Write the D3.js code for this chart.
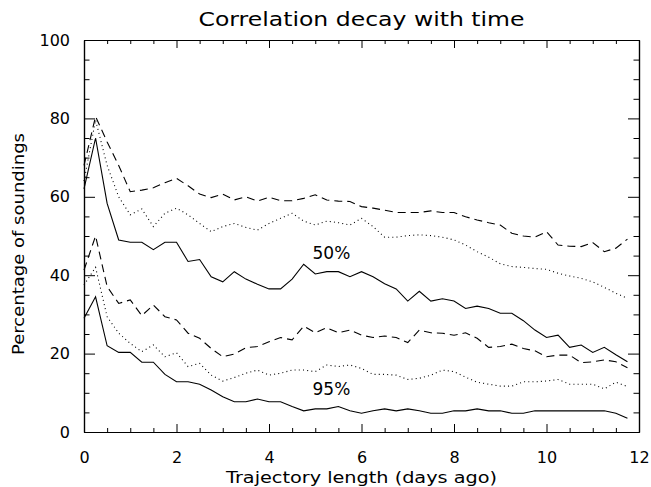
<!DOCTYPE html>
<html>
<head>
<meta charset="utf-8">
<script src="https://cdn.jsdelivr.net/npm/d3@7"></script>
<style>
  html, body { margin: 0; padding: 0; background: #fff; }
  svg text { font-family: "DejaVu Sans", sans-serif; fill: #000; }
</style>
</head>
<body>
<svg id="chart" width="651" height="487"></svg>
<script>
// ---- data ----
const days = d3.range(0, 12, 0.25); // 0 .. 11.75
const xTicks = [0, 2, 4, 6, 8, 10, 12];
const yTicks = [0, 20, 40, 60, 80, 100];

const dashed50 = [68, 80.5, 74, 68, 61.3, 61.7, 62.3, 63.6, 64.7, 62.8, 60.7, 59.8, 60.7, 59.2, 60.0, 58.9,
  59.9, 59.0, 59.0, 59.6, 60.5, 59.2, 58.9, 58.8, 57.5, 57.1, 56.6, 56.0, 56.0, 56.0, 56.4, 56.0,
  56.0, 54.9, 54.1, 53.4, 52.8, 50.7, 50.0, 49.7, 51.1, 47.7, 47.4, 47.3, 48.3, 46.0, 46.9, 49.2];
const dotted50 = [64, 79.6, 68, 60, 55.4, 56.9, 52.4, 55.8, 57.1, 55.4, 53.2, 51.1, 52.4, 53.2, 52.2, 51.5,
  53.2, 54.5, 55.8, 53.8, 52.8, 53.8, 53.4, 52.8, 54.5, 52.4, 49.7, 49.7, 50.1, 50.3, 50.1, 49.7,
  49.0, 47.7, 46.0, 44.6, 42.9, 42.2, 42.0, 41.7, 41.5, 40.5, 39.8, 39.2, 38.3, 36.9, 35.4, 34.1];
const solid50 = [62, 75, 58.3, 49.0, 48.4, 48.4, 46.5, 48.4, 48.4, 43.5, 44.0, 39.6, 38.3, 40.9, 39.0, 37.7,
  36.5, 36.5, 39.0, 42.8, 40.3, 40.9, 40.9, 39.6, 40.9, 39.6, 37.8, 36.5, 33.4, 35.9, 33.4, 34.0,
  33.4, 31.5, 32.1, 31.5, 30.3, 30.3, 28.4, 26.0, 24.1, 24.7, 21.6, 22.2, 20.3, 21.6, 19.7, 17.9];
const dashed95 = [41.3, 50.0, 37.1, 32.8, 33.7, 29.7, 32.4, 29.4, 28.6, 25.2, 23.9, 21.3, 19.2, 19.9, 21.5, 21.8,
  23.0, 24.1, 23.5, 27.0, 25.3, 26.6, 25.3, 26.0, 24.7, 24.1, 24.5, 24.1, 22.8, 26.0, 25.3, 25.2,
  24.7, 25.3, 23.9, 21.6, 21.8, 22.4, 21.3, 20.7, 19.2, 19.6, 19.6, 17.7, 17.9, 18.4, 17.9, 16.4];
const dotted95 = [37.5, 42.0, 29.4, 25.2, 22.6, 20.5, 22.2, 19.2, 20.2, 16.7, 17.5, 14.5, 13.0, 13.9, 15.0, 15.8,
  14.5, 15.0, 15.8, 15.8, 15.4, 17.1, 16.7, 17.1, 16.2, 14.7, 14.7, 14.5, 13.4, 13.7, 14.5, 15.8,
  15.4, 14.0, 12.7, 12.2, 11.7, 11.7, 12.8, 12.8, 13.0, 13.4, 12.2, 12.2, 12.2, 11.0, 12.7, 11.6];
const solid95 = [29.0, 34.5, 22.0, 20.3, 20.3, 17.8, 17.8, 14.7, 12.8, 12.8, 12.2, 10.7, 9.0, 7.7, 7.7, 8.4,
  7.7, 7.7, 6.5, 5.4, 5.9, 5.9, 6.5, 5.4, 4.8, 5.4, 5.9, 5.4, 5.9, 5.4, 4.8, 4.8,
  5.4, 5.4, 5.9, 5.4, 5.4, 4.8, 4.8, 5.4, 5.4, 5.4, 5.4, 5.4, 5.4, 5.4, 4.8, 3.5];

const seriesList = [
  { values: dashed50, style: "dashed" },
  { values: dotted50, style: "dotted" },
  { values: solid50,  style: "solid" },
  { values: dashed95, style: "dashed" },
  { values: dotted95, style: "dotted" },
  { values: solid95,  style: "solid" }
];
const annotations = [
  { text: "50%", x: 5.35, y: 44.2 },
  { text: "95%", x: 5.35, y: 9.5 }
];

// ---- layout ----
const svg = d3.select("#chart");
const L = 84, R = 639, T = 40, B = 432;
const x = d3.scaleLinear().domain([0, 12]).range([L, R]);
const y = d3.scaleLinear().domain([0, 100]).range([B, T]);

const dashes = { solid: null, dashed: "8,5", dotted: "1,3.2" };

// ---- lines ----
const line = d3.line().x((d, i) => x(days[i])).y(d => y(d));
const gLines = svg.append("g");
seriesList.forEach(s => {
  gLines.append("path")
    .attr("d", line(s.values))
    .attr("fill", "none")
    .attr("stroke", "#000")
    .attr("stroke-width", 1.1)
    .attr("stroke-dasharray", dashes[s.style]);
});

// ---- axes ----
const xMinor = d3.range(0, 12.01, 0.5).filter(v => v % 2 !== 0);
const yMinor = d3.range(0, 100.01, 5).filter(v => v % 20 !== 0);
const majX = 8, minX = 4, majY = 11, minY = 5.5;

function axis(gen, tr, tickLen, values, labels) {
  const g = svg.append("g").attr("transform", tr)
    .call(gen.tickValues(values).tickSizeInner(tickLen).tickSizeOuter(0)
      .tickFormat(labels ? (d => d3.format("d")(d)) : ""));
  g.select(".domain").attr("stroke", "#000").attr("stroke-width", 1.2);
  g.selectAll(".tick line").attr("stroke", "#000").attr("stroke-width", 1);
  return g;
}
// bottom
const gxb = axis(d3.axisBottom(x), `translate(0,${B})`, -majX, xTicks, true);
gxb.selectAll(".tick text").attr("y", 31).attr("dy", null).style("font-size", "16px");
axis(d3.axisBottom(x), `translate(0,${B})`, -minX, xMinor, false);
// top
axis(d3.axisTop(x), `translate(0,${T})`, -majX, xTicks, false);
axis(d3.axisTop(x), `translate(0,${T})`, -minX, xMinor, false);
// left
const gyl = axis(d3.axisLeft(y), `translate(${L},0)`, -majY, yTicks, true);
gyl.selectAll(".tick text").attr("x", -14).style("font-size", "16px");
axis(d3.axisLeft(y), `translate(${L},0)`, -minY, yMinor, false);
// right
axis(d3.axisRight(y), `translate(${R},0)`, -majY, yTicks, false);
axis(d3.axisRight(y), `translate(${R},0)`, -minY, yMinor, false);

// ---- annotations ----
annotations.forEach(a => {
  svg.append("text")
    .attr("x", x(a.x)).attr("y", y(a.y))
    .attr("text-anchor", "middle")
    .style("font-size", "17px")
    .text(a.text);
});

// ---- titles ----
svg.append("text")
  .attr("x", (L + R) / 2).attr("y", 26)
  .attr("text-anchor", "middle")
  .attr("textLength", 326).attr("lengthAdjust", "spacingAndGlyphs")
  .style("font-size", "19px")
  .text("Correlation decay with time");

svg.append("text")
  .attr("x", (L + R) / 2).attr("y", 483)
  .attr("text-anchor", "middle")
  .attr("textLength", 271).attr("lengthAdjust", "spacingAndGlyphs")
  .style("font-size", "16px")
  .text("Trajectory length (days ago)");

svg.append("text")
  .attr("transform", `translate(24,${244}) rotate(-90)`)
  .attr("text-anchor", "middle")
  .attr("textLength", 222).attr("lengthAdjust", "spacingAndGlyphs")
  .style("font-size", "16px")
  .text("Percentage of soundings");
</script>
</body>
</html>
